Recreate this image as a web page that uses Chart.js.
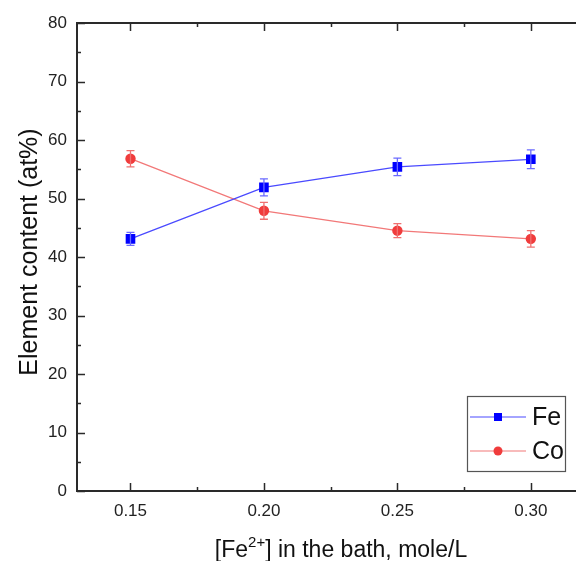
<!DOCTYPE html>
<html>
<head>
<meta charset="utf-8">
<script src="https://cdn.jsdelivr.net/npm/chart.js@4/dist/chart.umd.min.js"></script>
<style>
html,body{margin:0;padding:0;background:#fff;overflow:hidden;}
#wrap{width:576px;height:561px;position:relative;}
</style>
</head>
<body>
<div id="wrap"><canvas id="c" width="576" height="561"></canvas></div>
<script>
const concentrations = [0.15, 0.20, 0.25, 0.30];
const feContent = [43.1, 51.9, 55.4, 56.7];
const feError = [1.1, 1.45, 1.5, 1.6];
const coContent = [56.8, 47.9, 44.5, 43.1];
const coError = [1.4, 1.45, 1.2, 1.4];
const xTicks = [0.15, 0.20, 0.25, 0.30];
const xMinorTicks = [0.175, 0.225, 0.275, 0.325];
const yTicks = [0, 10, 20, 30, 40, 50, 60, 70, 80];
const yMinorTicks = [5, 15, 25, 35, 45, 55, 65, 75];
const seriesNames = ['Fe', 'Co'];

const FONT = '"Liberation Sans", Arial, sans-serif';

const errorBars = {
  id: 'errorBars',
  afterDatasetsDraw(chart) {
    const ctx = chart.ctx;
    const xs = chart.scales.x, ys = chart.scales.y;
    chart.data.datasets.forEach((ds, i) => {
      const errs = ds.errors;
      ctx.save();
      ctx.strokeStyle = ds.errorColor;
      ctx.lineWidth = 1.3;
      ds.data.forEach((p, j) => {
        const x = xs.getPixelForValue(p.x);
        const y1 = ys.getPixelForValue(p.y - errs[j]);
        const y2 = ys.getPixelForValue(p.y + errs[j]);
        ctx.beginPath();
        ctx.moveTo(x, y1); ctx.lineTo(x, y2);
        ctx.moveTo(x - 4, y1); ctx.lineTo(x + 4, y1);
        ctx.moveTo(x - 4, y2); ctx.lineTo(x + 4, y2);
        ctx.stroke();
      });
      ctx.restore();
    });
  }
};

const frame = {
  id: 'frame',
  afterDraw(chart) {
    const ctx = chart.ctx;
    const a = chart.chartArea;
    const xs = chart.scales.x, ys = chart.scales.y;
    const W = chart.width;
    ctx.save();
    ctx.strokeStyle = '#2a2a2a';
    ctx.lineWidth = 2;
    ctx.beginPath();
    ctx.moveTo(a.left, a.top); ctx.lineTo(W, a.top);
    ctx.moveTo(a.left, a.top - 1); ctx.lineTo(a.left, a.bottom + 1);
    ctx.moveTo(a.left - 1, a.bottom); ctx.lineTo(W, a.bottom);
    ctx.stroke();
    ctx.lineWidth = 1.5;
    ctx.beginPath();
    xTicks.forEach(v => {
      const x = Math.round(xs.getPixelForValue(v)) + 0.5;
      ctx.moveTo(x, a.bottom); ctx.lineTo(x, a.bottom - 8);
      ctx.moveTo(x, a.top); ctx.lineTo(x, a.top + 8);
    });
    xMinorTicks.forEach(v => {
      const x = Math.round(xs.getPixelForValue(v)) + 0.5;
      if (x > W) return;
      ctx.moveTo(x, a.bottom); ctx.lineTo(x, a.bottom - 4);
      ctx.moveTo(x, a.top); ctx.lineTo(x, a.top + 4);
    });
    yTicks.forEach(v => {
      const y = Math.round(ys.getPixelForValue(v)) + 0.5;
      ctx.moveTo(a.left, y); ctx.lineTo(a.left + 8, y);
    });
    yMinorTicks.forEach(v => {
      const y = Math.round(ys.getPixelForValue(v)) + 0.5;
      ctx.moveTo(a.left, y); ctx.lineTo(a.left + 4, y);
    });
    ctx.stroke();

    // axis titles
    ctx.fillStyle = '#111';
    ctx.textBaseline = 'alphabetic';
    ctx.save();
    ctx.translate(37, 252);
    ctx.rotate(-Math.PI / 2);
    ctx.font = '25px ' + FONT;
    ctx.textAlign = 'center';
    ctx.fillText('Element content (at%)', 0, 0);
    ctx.restore();
    const big = '23px ' + FONT, small = '15px ' + FONT;
    const p1 = '[Fe', p2 = '2+', p3 = '] in the bath, mole/L';
    ctx.font = big; const w1 = ctx.measureText(p1).width, w3 = ctx.measureText(p3).width;
    ctx.font = small; const w2 = ctx.measureText(p2).width;
    let x0 = 341 - (w1 + w2 + w3) / 2;
    const base = 557;
    ctx.textAlign = 'left';
    ctx.font = big; ctx.fillText(p1, x0, base);
    ctx.font = small; ctx.fillText(p2, x0 + w1, base - 10);
    ctx.font = big; ctx.fillText(p3, x0 + w1 + w2, base);

    // legend
    const lx = 467, ly = 396, lw = 98, lh = 75;
    ctx.fillStyle = '#fff';
    ctx.fillRect(lx, ly, lw, lh);
    ctx.strokeStyle = '#555';
    ctx.lineWidth = 1.2;
    ctx.strokeRect(lx + 0.5, ly + 0.5, lw, lh);
    chart.data.datasets.forEach((ds, i) => {
      const cy = ly + 21 + i * 34;
      ctx.strokeStyle = ds.borderColor;
      ctx.lineWidth = 1.2;
      ctx.beginPath(); ctx.moveTo(lx + 3, cy); ctx.lineTo(lx + 59, cy); ctx.stroke();
      ctx.fillStyle = ds.pointBackgroundColor;
      if (ds.pointStyle === 'rect') {
        ctx.fillRect(lx + 31 - 4, cy - 4, 8, 8);
      } else {
        ctx.beginPath(); ctx.arc(lx + 31, cy, 4.5, 0, Math.PI * 2); ctx.fill();
      }
      ctx.fillStyle = '#111';
      ctx.font = '25px ' + FONT;
      ctx.textAlign = 'left';
      ctx.textBaseline = 'middle';
      ctx.fillText(ds.label, lx + 65, cy + 1);
    });
    ctx.restore();
  }
};

const toPts = (ys) => concentrations.map((x, i) => ({ x: x, y: ys[i] }));

new Chart(document.getElementById('c'), {
  type: 'line',
  data: {
    datasets: [
      {
        label: seriesNames[0], data: toPts(feContent), errors: feError,
        borderColor: '#4a4aff', errorColor: '#6b6bff', borderWidth: 1.3,
        pointStyle: 'rect', pointRadius: 6.8, pointBackgroundColor: '#0000ff', pointBorderColor: '#0000ff',
        pointBorderWidth: 0, tension: 0
      },
      {
        label: seriesNames[1], data: toPts(coContent), errors: coError,
        borderColor: '#f27878', errorColor: '#f07070', borderWidth: 1.3,
        pointStyle: 'circle', pointRadius: 5.2, pointBackgroundColor: '#f03c3c', pointBorderColor: '#f03c3c',
        pointBorderWidth: 0, tension: 0
      }
    ]
  },
  options: {
    responsive: false,
    animation: false,
    layout: { padding: { top: 23, right: 0, left: 0, bottom: 0 } },
    plugins: { legend: { display: false }, tooltip: { enabled: false } },
    scales: {
      x: {
        type: 'linear', min: 0.12996, max: 0.31438,
        afterBuildTicks: (s) => { s.ticks = xTicks.map(v => ({ value: v })); },
        afterFit: (s) => { s.height = 70; },
        grid: { display: false, drawTicks: false },
        border: { display: false },
        ticks: { color: '#222', font: { family: FONT, size: 17 }, padding: 10,
                 callback: (v) => Number(v).toFixed(2), maxRotation: 0, autoSkip: false }
      },
      y: {
        min: 0, max: 80,
        afterBuildTicks: (s) => { s.ticks = yTicks.map(v => ({ value: v })); },
        afterFit: (s) => { s.width = 77; },
        grid: { display: false, drawTicks: false },
        border: { display: false },
        ticks: { color: '#222', font: { family: FONT, size: 17 }, padding: 10 }
      }
    }
  },
  plugins: [errorBars, frame]
});
</script>
</body>
</html>
